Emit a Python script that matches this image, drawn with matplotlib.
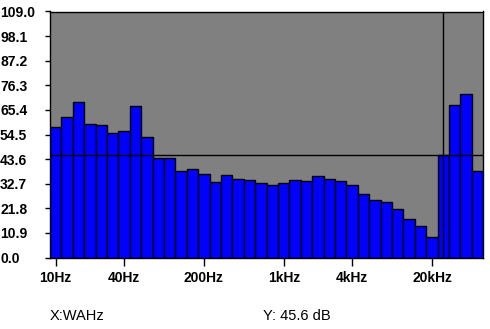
import matplotlib
matplotlib.use("Agg")
import matplotlib.pyplot as plt
import numpy as np

# 1/3-octave bands
bands = ["10", "12.5", "16", "20", "25", "31.5", "40", "50", "63", "80",
         "100", "125", "160", "200", "250", "315", "400", "500", "630", "800",
         "1k", "1.25k", "1.6k", "2k", "2.5k", "3.15k", "4k", "5k", "6.3k", "8k",
         "10k", "12.5k", "16k", "20k", "25k", "31.5k", "40k", "50k"]
levels = [57.8, 62.2, 68.8, 59.0, 58.6, 55.0, 55.9, 67.1, 53.4, 43.9,
          43.9, 38.2, 39.1, 37.0, 33.3, 36.6, 34.6, 34.2, 33.0, 32.1,
          33.0, 34.2, 33.9, 36.0, 34.6, 33.9, 32.1, 28.1, 25.5, 24.6,
          21.5, 17.1, 14.0, 9.1, 45.6, 67.6, 72.3, 38.3]

xtick_bands = ["10", "40", "200", "1k", "4k", "20k"]
xtick_labels = ["10Hz", "40Hz", "200Hz", "1kHz", "4kHz", "20kHz"]
ytick_vals = [0.0, 10.9, 21.8, 32.7, 43.6, 54.5, 65.4, 76.3, 87.2, 98.1, 109.0]

cursor_band = "25k"
cursor_y = 45.6

W, H = 490, 329
fig = plt.figure(figsize=(W / 100, H / 100), dpi=100)
ax = fig.add_axes([50 / W, (H - 257.5) / H, 433.3 / W, 246 / H])
ax.set_facecolor("#808080")

x = np.arange(len(bands))
ax.bar(x, levels, width=1.0, color="#0000ff", edgecolor="black", linewidth=1.0, zorder=2)

# cursor cross
cx = bands.index(cursor_band)
ax.axhline(cursor_y, color="black", linewidth=1.0, zorder=3)
ax.axvline(cx, color="black", linewidth=1.0, zorder=3)

ax.set_xlim(-0.5, len(bands) - 0.5)
ax.set_ylim(0, 109.0)

for s in ax.spines.values():
    s.set_color("black")
    s.set_linewidth(1.0)

font = dict(family=["Liberation Sans", "DejaVu Sans"], weight="bold", size=10)

ax.set_yticks(ytick_vals)
ax.set_yticklabels(["%.1f" % v for v in ytick_vals], ha="left", **font)
ax.tick_params(axis="y", length=3.6, width=1.0, pad=32.4, color="black")

ax.set_xticks([bands.index(b) for b in xtick_bands])
ax.set_xticklabels(xtick_labels, **font)
ax.tick_params(axis="x", length=6, width=1.0, pad=4, color="black")

lab = dict(family=["Liberation Sans", "DejaVu Sans"], size=10.5, va="center", ha="left")
fig.text(50 / W, 1 - 316.5 / H, "X:WAHz", **lab)
fig.text(263 / W, 1 - 316.5 / H, "Y: %.1f dB" % cursor_y, **lab)

fig.savefig("out.png", dpi=100, facecolor="white")
